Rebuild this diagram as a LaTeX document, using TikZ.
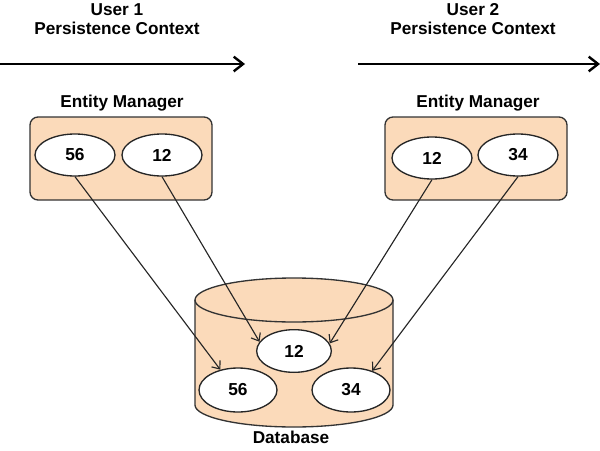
\documentclass[tikz,border=0pt]{standalone}
\usepackage{fontspec}
\setmainfont{Liberation Sans}
\usetikzlibrary{arrows.meta,shapes.geometric}

\definecolor{peach}{RGB}{251,218,186}

\tikzset{
    lbl/.style={font=\bfseries\fontsize{12.9}{14.5}\selectfont, align=center},
    obj/.style={ellipse, draw=black!85, line width=1pt, fill=white, inner sep=0pt,
        minimum width=60pt, minimum height=31.5pt, font=\bfseries\fontsize{13}{15}\selectfont},
    dbobj/.style={obj, minimum width=58.5pt, minimum height=33pt},
    ref/.style={draw=black!85, line width=0.85pt, -{Straight Barb[length=5pt,width=8pt]}},
    ctx/.style={line width=1.8pt, -{Straight Barb[length=7pt,width=11pt,line width=1.8pt]}},
    box/.style={draw=black!80, line width=1pt, fill=peach}
}

\begin{document}
\begin{tikzpicture}[x=0.75pt,y=0.75pt]
    \useasboundingbox (0,0) rectangle (600,-450);

    % persistence contexts
    \node[lbl] (pc1) at (117,-19) {User 1\\Persistence Context};
    \node[lbl] (pc2) at (473,-19) {User 2\\Persistence Context};
    \coordinate (c1s) at (0,-64);
    \coordinate (c1e) at (245,-64);
    \coordinate (c2s) at (358,-64);
    \coordinate (c2e) at (600,-64);
    \draw[ctx] (c1s) -- (c1e);
    \draw[ctx] (c2s) -- (c2e);

    % entity managers
    \node[lbl] (em1) at (122,-103) {Entity Manager};
    \node[lbl] (em2) at (478,-103) {Entity Manager};
    \draw[box, rounded corners=6pt] (30,-117) rectangle (212,-200);
    \draw[box, rounded corners=6pt] (385,-117) rectangle (567,-200);

    \node[obj] (a56) at (75,-155) {56};
    \node[obj] (a12) at (162,-155) {12};
    \node[obj] (b12) at (432,-158) {12};
    \node[obj] (b34) at (518,-155) {34};

    % database
    \draw[box] (195,-300) -- (195,-405)
        arc[start angle=180, end angle=360, x radius=99, y radius=22]
        -- (393,-300)
        arc[start angle=0, end angle=180, x radius=99, y radius=22] -- cycle;
    \draw[draw=black!80, line width=1pt] (195,-300)
        arc[start angle=180, end angle=360, x radius=99, y radius=22];
    \node[lbl] (dbl) at (291,-437) {Database};

    \node[dbobj, minimum width=56pt, minimum height=32pt] (d12) at (294,-351) {12};
    \node[dbobj] (d56) at (238,-390) {56};
    \node[dbobj] (d34) at (351,-390) {34};

    % references
    \draw[ref] (a56.south) -- (d56.131);
    \draw[ref] (a12.south) -- (d12.165);
    \draw[ref] (b12.south) -- (d12.12);
    \draw[ref] (b34.south) -- (d34.42);
\end{tikzpicture}
\end{document}
